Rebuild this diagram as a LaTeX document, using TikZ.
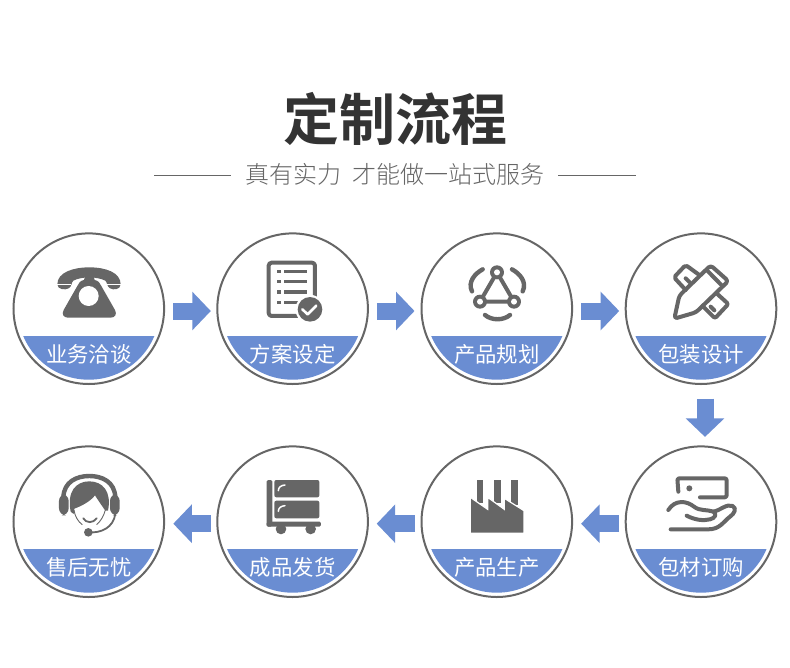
\documentclass[tikz,border=0pt]{standalone}
\usepackage{fontspec}
\usetikzlibrary{arrows.meta}
\newfontfamily\cjk{Noto Sans CJK SC}
\newfontfamily\cjklight{Noto Sans CJK SC Light}
\newfontfamily\cjkbold{Noto Sans CJK SC Bold}
\definecolor{ringc}{HTML}{666666}
\definecolor{bandc}{HTML}{6A8DD2}
\definecolor{iconc}{HTML}{666666}
\definecolor{titlec}{HTML}{333333}
\definecolor{subc}{HTML}{666666}
\tikzset{
  ring/.style={circle,draw=ringc,line width=2pt,minimum size=150.6pt,inner sep=0pt,outer sep=0pt},
  steplabel/.style={text=white,font=\cjk\fontsize{21.4}{21.4}\selectfont,inner sep=0pt},
  flow/.style={draw=bandc,line width=17pt,-{Triangle[width=37.5pt,length=18.5pt]},shorten <=#1},
  flow/.default=9pt,
  ico/.style={draw=iconc,line width=4pt,line cap=round,line join=round},
  icofill/.style={fill=iconc},
  zoomed/.style 2 args={xshift=#1pt,yshift=-#2pt,x=0.3333pt,y=-0.3333pt}
}
\begin{document}
\begin{tikzpicture}[x=1pt,y=-1pt]
\useasboundingbox (0,0) rectangle (790,667);
\fill[white] (0,0) rectangle (790,667);
% header
\node[inner sep=0pt,text=titlec,font=\cjkbold\fontsize{56}{56}\selectfont] (title) at (395,118.5) {定制流程};
\node[inner sep=0pt,text=subc,font=\cjklight\fontsize{24}{24}\selectfont] (sub) at (395,174.5) {真有实力 \hspace{6pt}才能做一站式服务};
\coordinate (l1) at (154,175); \coordinate (l2) at (231,175);
\coordinate (r1) at (558,175); \coordinate (r2) at (636,175);
\draw[subc,line width=1pt] (l1) -- (l2);
\draw[subc,line width=1pt] (r1) -- (r2);
% circles
\foreach \n/\x/\y/\t in {a/88.8/308.7/业务洽谈,b/292.6/308.7/方案设定,c/496.8/308.7/产品规划,d/701/308.7/包装设计,
                         e/701/521.7/包材订购,f/496.8/521.7/产品生产,g/292.6/521.7/成品发货,h/88.8/521.7/售后无忧}{
  \begin{scope}
    \clip (\x,\y) circle[radius=71pt];
    \fill[bandc] (\x-75,\y+27.3) rectangle (\x+75,\y+75);
  \end{scope}
  \node[ring] (\n) at (\x,\y) {};
  \node[steplabel] (\n t) at (\x,\y+45.5) {\t};
}
% connectors
\draw[flow] ([yshift=-2.3pt]a.east) -- ([shift={(-6.5pt,-2.3pt)}]b.west);
\draw[flow] ([yshift=-2.3pt]b.east) -- ([shift={(-7pt,-2.3pt)}]c.west);
\draw[flow] ([yshift=-2.3pt]c.east) -- ([shift={(-6.5pt,-2.3pt)}]d.west);
\draw[flow=14.5pt] ([xshift=4pt]d.south) -- ([shift={(4pt,9.5pt)}]e.north);
\draw[flow=6.6pt] ([yshift=-2pt]e.west) -- ([shift={(9pt,-2pt)}]f.east);
\draw[flow=6.5pt] ([yshift=-2pt]f.west) -- ([shift={(8.8pt,-2pt)}]g.east);
\draw[flow=6.3pt] ([yshift=-2pt]g.west) -- ([shift={(9.2pt,-2pt)}]h.east);
% phone
\begin{scope}[zoomed={0}{225}]
  \fill[iconc] (172,178) .. controls (172,142) and (220,127) .. (268,127) .. controls (316,127) and (362,142) .. (362,178)
     .. controls (362,194) and (340,196) .. (330,190) .. controls (320,184) and (322,172) .. (316,167)
     .. controls (290,154) and (245,154) .. (220,167) .. controls (214,172) and (216,184) .. (206,190) .. controls (196,196) and (172,194) .. (172,178) -- cycle;
  \fill[iconc] (252,165) -- (256,152) -- (280,152) -- (284,165) .. controls (296,167) and (300,175) .. (304,183)
     -- (345,255) .. controls (352,268) and (345,278) .. (332,278) -- (204,278) .. controls (191,278) and (184,268) .. (191,255)
     -- (232,183) .. controls (236,175) and (240,167) .. (252,165) -- cycle;
  \fill[white] (266,213) circle[radius=10pt];
  \draw[white,line width=0.9pt] (172,178) -- (214,178);
  \draw[white,line width=0.9pt] (322,178) -- (362,178);
\end{scope}
% document
\begin{scope}[zoomed={215}{225}]
  \draw[ico,rounded corners=3pt] (161,113) rectangle (300,273);
  \foreach \yy in {139,170,201,232}{
    \fill[iconc] (187,\yy-5) rectangle (199,\yy+5);
  }
  \foreach \yy in {139,170,201}{
    \fill[iconc] (206,\yy-5) rectangle (275,\yy+5);
  }
  \fill[iconc] (206,227) rectangle (255,237);
  \fill[white] (285,253) circle[radius=14.5pt];
  \fill[iconc] (285,253) circle[radius=12.3pt];
  \draw[white,line width=2.6pt,line cap=round,line join=round] (262,253) -- (278,268) -- (304,242);
\end{scope}
% network triangle
\begin{scope}[zoomed={420}{225}]
  \draw[ico] (231,142) -- (180,230) -- (282,230) -- cycle;
  \foreach \p in {(231,142),(180,230),(282,230)}{
    \fill[iconc] \p circle[radius=7pt];
    \fill[white] \p circle[radius=3pt];
  }
  \draw[iconc,line width=4.4pt,line cap=round] (188,133) .. controls (166,145) and (142,170) .. (156,199);
  \draw[iconc,line width=4.4pt,line cap=round] (276,133) .. controls (298,145) and (322,170) .. (308,199);
  \draw[iconc,line width=4.4pt,line cap=round] (195,270) .. controls (215,287) and (250,287) .. (270,270);
\end{scope}
% pencil and ruler
\begin{scope}[zoomed={620}{225}]
  \draw[ico,rounded corners=2pt] (238,150) -- (197,120) -- (162,157) -- (197,195);
  \draw[ico] (197,160) -- (208,171);
  \draw[ico,rounded corners=2pt] (292,207) -- (325,237) -- (285,280) -- (248,243);
  \draw[ico] (272,245) -- (283,256);
  \draw[ico,rounded corners=3pt] (178,212) -- (272,121) -- (325,168) -- (228,262) -- (163,281) -- cycle;
  \draw[ico] (262,137) -- (308,184);
\end{scope}
% hand and card
\begin{scope}[zoomed={620}{440}]
  \draw[ico,rounded corners=2pt] (175,155) -- (172,115) -- (320,115) -- (320,172) -- (240,172);
  \fill[iconc] (208,145) circle[radius=3pt];
  \draw[ico] (145,210) .. controls (165,178) and (200,182) .. (222,200) .. controls (240,214) and (262,208) .. (280,215) .. controls (292,222) and (285,235) .. (270,238) .. controls (250,243) and (225,240) .. (200,227);
  \draw[ico] (280,215) .. controls (300,212) and (320,190) .. (338,198) .. controls (352,205) and (342,222) .. (330,230) .. controls (310,245) and (300,268) .. (265,268) -- (152,268);
\end{scope}
% factory
\begin{scope}[zoomed={415}{440}]
  \fill[iconc] (185,120) rectangle (205,190);
  \fill[iconc] (237,120) rectangle (257,190);
  \fill[iconc] (288,120) rectangle (308,195);
  \fill[iconc,draw=white,line width=1.2pt] (166,280) -- (166,172) -- (218,208) -- (218,172) -- (268,208) -- (268,175) -- (327,212) -- (327,280) -- cycle;
\end{scope}
% cart
\begin{scope}[zoomed={210}{440}]
  \fill[iconc,rounded corners=1.5pt] (170,120) rectangle (187,260);
  \fill[iconc,rounded corners=1.5pt] (170,245) rectangle (333,260);
  \fill[iconc] (213,267) circle[radius=5.3pt];
  \fill[iconc] (302,267) circle[radius=5.3pt];
  \fill[iconc,rounded corners=2pt] (193,120) rectangle (328,172);
  \fill[iconc,rounded corners=2pt] (193,182) rectangle (328,235);
  \draw[white,line width=1.5pt,line cap=round] (205,152) .. controls (205,142) and (213,136) .. (225,135);
  \draw[white,line width=1.5pt,line cap=round] (205,214) .. controls (205,204) and (213,198) .. (225,197);
\end{scope}
% headset
\begin{scope}[zoomed={0}{440}]
  \draw[iconc,line width=4.4pt] (190,172) .. controls (192,125) and (230,108) .. (268,108) .. controls (306,108) and (344,125) .. (346,172);
  \fill[iconc,rounded corners=7pt] (177,162) rectangle (206,226);
  \fill[iconc,rounded corners=7pt] (330,162) rectangle (359,226);
  \fill[white] (206,165) rectangle (211,226);
  \fill[white] (325,165) rectangle (330,226);
  \fill[iconc] (212,215) .. controls (200,155) and (228,124) .. (268,124) .. controls (308,124) and (336,155) .. (324,212)
     -- (316,212) .. controls (305,196) and (295,182) .. (285,166) .. controls (270,186) and (240,200) .. (223,206) -- (221,222) -- cycle;
  \draw[iconc,line width=0.9pt] (222,210) .. controls (224,228) and (235,246) .. (247,254);
  \draw[iconc,line width=0.9pt] (316,210) .. controls (312,228) and (300,246) .. (290,254);
  \draw[iconc,line width=1.8pt,line cap=round] (250,235) .. controls (258,250) and (280,250) .. (290,235);
  \draw[iconc,line width=1.8pt] (265,277) .. controls (305,280) and (340,262) .. (346,222);
  \fill[iconc] (265,277) circle[radius=4.3pt];
\end{scope}
\end{tikzpicture}
\end{document}
